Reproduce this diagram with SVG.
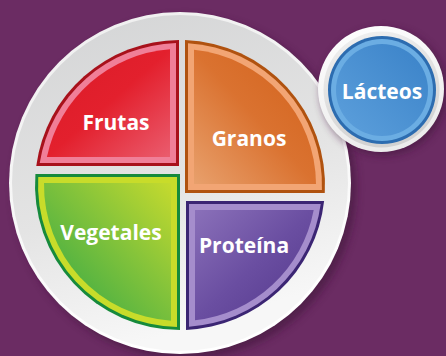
<svg xmlns="http://www.w3.org/2000/svg" width="446" height="356" viewBox="0 0 446 356">
  <defs>
    <style>
      .lbl { font-family: "Open Sans", "DejaVu Sans", sans-serif; font-weight: 700; font-size: 21px; fill: #ffffff; text-anchor: middle; }
    </style>
    <filter id="shadow" x="-20%" y="-20%" width="140%" height="140%">
      <feGaussianBlur stdDeviation="4"/>
    </filter>
    <linearGradient id="plateG" x1="0" y1="0" x2="0.3" y2="1">
      <stop offset="0" stop-color="#d3d4d5"/>
      <stop offset="0.6" stop-color="#e4e4e4"/>
      <stop offset="1" stop-color="#f7f7f7"/>
    </linearGradient>
    <linearGradient id="rimG" x1="0" y1="0" x2="0.3" y2="1">
      <stop offset="0" stop-color="#eeeeee"/>
      <stop offset="1" stop-color="#ffffff"/>
    </linearGradient>
    <linearGradient id="redG" x1="0" y1="0" x2="1" y2="1">
      <stop offset="0" stop-color="#d91b27"/>
      <stop offset="0.5" stop-color="#e3202d"/>
      <stop offset="1" stop-color="#ea5c6e"/>
    </linearGradient>
    <linearGradient id="orangeG" x1="1" y1="0" x2="0" y2="1">
      <stop offset="0" stop-color="#d2611a"/>
      <stop offset="0.5" stop-color="#da7230"/>
      <stop offset="1" stop-color="#e8a06c"/>
    </linearGradient>
    <linearGradient id="greenG" x1="1" y1="0" x2="0" y2="1">
      <stop offset="0" stop-color="#c5da2e"/>
      <stop offset="0.4" stop-color="#86c43a"/>
      <stop offset="1" stop-color="#2aa548"/>
    </linearGradient>
    <linearGradient id="purpleG" x1="0" y1="0" x2="1" y2="1">
      <stop offset="0" stop-color="#8a70b9"/>
      <stop offset="0.5" stop-color="#6a4ea1"/>
      <stop offset="1" stop-color="#52368a"/>
    </linearGradient>
    <linearGradient id="ringG" x1="0" y1="0" x2="0.3" y2="1">
      <stop offset="0" stop-color="#ffffff"/>
      <stop offset="1" stop-color="#ececec"/>
    </linearGradient>
    <linearGradient id="ringInG" x1="0" y1="0" x2="0.3" y2="1">
      <stop offset="0" stop-color="#f2f2f2"/>
      <stop offset="1" stop-color="#d2d2d2"/>
    </linearGradient>
    <linearGradient id="blueG" x1="1" y1="0" x2="0" y2="1">
      <stop offset="0" stop-color="#3a82c8"/>
      <stop offset="1" stop-color="#5da0dc"/>
    </linearGradient>
  </defs>

  <rect x="0" y="0" width="446" height="356" fill="#6b2c63"/>

  <g id="plate">
    <circle cx="185" cy="188" r="171" fill="#3e1238" opacity="0.6" filter="url(#shadow)"/>
    <circle cx="180" cy="183" r="171" fill="url(#rimG)"/>
    <circle cx="180" cy="183" r="168" fill="url(#plateG)"/>
  </g>

  <g id="connectors"/>

  <g id="frutas">
    <path d="M179,40 L179,166 L36.25,166 A145,145 0 0 1 179,40 Z" fill="#a8111b"/>
    <path d="M176,43.06 L176,163 L39.71,163 A142,142 0 0 1 176,43.06 Z" fill="#f07f98"/>
    <path d="M170,49.37 L170,157 L46.91,157 A136,136 0 0 1 170,49.37 Z" fill="url(#redG)"/>
    <text class="lbl" x="116" y="130">Frutas</text>
  </g>

  <g id="granos">
    <path d="M185,40.09 L185,193 L324.78,193 A145,145 0 0 0 185,40.09 Z" fill="#b0520f"/>
    <path d="M188,43.23 L188,190 L321.91,190 A142,142 0 0 0 188,43.23 Z" fill="#f2a574"/>
    <path d="M194,49.72 L194,184 L316,184 A136,136 0 0 0 194,49.72 Z" fill="url(#orangeG)"/>
    <text class="lbl" x="249" y="146">Granos</text>
  </g>

  <g id="vegetales">
    <path d="M180,174 L180,330 A145,145 0 0 1 35.42,174 Z" fill="#168a3c"/>
    <path d="M177,177 L177,326.97 A142,142 0 0 1 38.23,177 Z" fill="#c8dc2a"/>
    <path d="M171,183 L171,320.7 A136,136 0 0 1 44.01,183 Z" fill="url(#greenG)"/>
    <text class="lbl" x="111" y="240">Vegetales</text>
  </g>

  <g id="proteina">
    <path d="M186,201 L324.11,201 A145,145 0 0 1 186,329.88 Z" fill="#3b2573"/>
    <path d="M189,204 L320.72,204 A142,142 0 0 1 189,326.71 Z" fill="#a58dcc"/>
    <path d="M195,210 L313.68,210 A136,136 0 0 1 195,320.17 Z" fill="url(#purpleG)"/>
    <text class="lbl" x="244" y="253">Proteína</text>
  </g>

  <g id="lacteos">
    <circle cx="384" cy="92" r="63" fill="#3e1238" opacity="0.6" filter="url(#shadow)"/>
    <circle cx="381" cy="89" r="63" fill="url(#ringG)"/>
    <circle cx="381.5" cy="89.5" r="58" fill="url(#ringInG)"/>
    <circle cx="382" cy="90" r="54" fill="#2c6cb0"/>
    <circle cx="382" cy="90" r="51" fill="#6badE3"/>
    <circle cx="382" cy="90" r="46" fill="url(#blueG)"/>
    <text class="lbl" x="382" y="99">Lácteos</text>
  </g>
</svg>
